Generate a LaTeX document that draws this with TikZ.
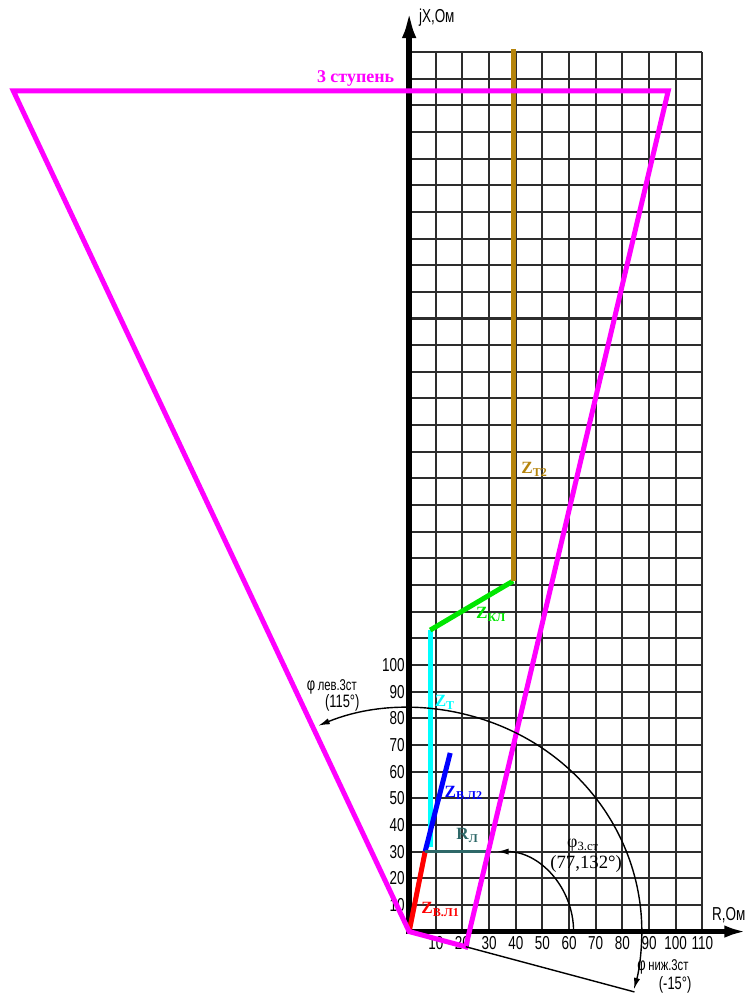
\documentclass[tikz,border=0pt]{standalone}
\usepackage{fontspec}
\setmainfont{Liberation Serif}
\newfontfamily\gost[FakeStretch=0.72]{Liberation Sans}
\usepackage{tikz}
\usetikzlibrary{arrows.meta}

\definecolor{zbrown}{RGB}{181,132,12}
\definecolor{zgreen}{RGB}{0,230,0}
\definecolor{zcyan}{RGB}{0,255,255}
\definecolor{zblue}{RGB}{0,0,255}
\definecolor{zred}{RGB}{255,0,0}
\definecolor{zmagenta}{RGB}{255,0,255}
\definecolor{zteal}{RGB}{46,104,104}
\definecolor{gridgray}{RGB}{45,45,45}

\tikzset{
  zline/.style={line width=3.2pt},
  zlabel/.style={anchor=west, inner sep=0pt, font=\bfseries\fontsize{11}{11}\selectfont},
  axlabel/.style={inner sep=1pt, font=\gost\fontsize{12}{12}\selectfont},
  angarc/.style={line width=0.9pt, -{Latex[length=2.6mm,width=1.4mm]}},
  anglabel/.style={inner sep=0pt, font=\gost\fontsize{11.5}{11.5}\selectfont},
}

\begin{document}
\begin{tikzpicture}[scale=0.6]
    % 边界
    \useasboundingbox (-15.35,-2.38) rectangle (12.68,34.95);

    % 网格
    \draw[gridgray, line width=1.3pt] (0,0) grid (11,33);

    % 坐标轴
    \draw[line width=3.6pt, -{Latex[length=6.5mm,width=3.2mm]}] (0,-0.1) -- (0,34.6);
    \draw[line width=3.6pt, -{Latex[length=5mm,width=2.8mm]}] (-0.1,0) -- (12.66,0);
    \node[axlabel, anchor=west] (ylab) at (0.3,34.3) {jX,Ом};
    \node[axlabel, anchor=west] (xlab) at (11.3,0.62) {R,Ом};

    % 刻度
    \foreach \i in {1,...,11}
        \node[axlabel, anchor=north] (x\i) at (\i,-0.12) {\the\numexpr\i*10\relax};
    \foreach \i in {1,...,10}
        \node[axlabel, anchor=east] (y\i) at (-0.1,\i) {\the\numexpr\i*10\relax};

    % 特性线
    \coordinate (O) at (0,0);
    \coordinate (P1) at (0.6,3);
    \coordinate (P2) at (1.54,6.7);
    \coordinate (T1) at (0.79,3.17);
    \coordinate (T2) at (0.79,11.31);
    \coordinate (K2) at (3.9,13.15);
    \coordinate (B2) at (3.9,33.1);
    \coordinate (RL) at (2.9,3);
    \draw[zline, zcyan] (T1) -- (T2);
    \draw[zline, zgreen] (T2) -- (K2);
    \draw[zline, zbrown] (K2) -- (B2);
    \draw[zline, zred] (O) -- (P1);
    \draw[zline, zblue] (P1) -- (P2);
    \draw[zteal, line width=2pt] (P1) -- (RL);

    % 特性区
    \coordinate (A) at (-15:2.2);
    \coordinate (C) at (9.72,31.54);
    \coordinate (D) at (-14.85,31.54);
    \draw[zmagenta, zline] (O) -- (A) -- (C) -- (D) -- cycle;
    \node[zmagenta, inner sep=0pt, anchor=south east, font=\bfseries\fontsize{11.5}{11.5}\selectfont]
        (st3) at (-0.55,31.7) {3 ступень};

    % 角度
    \draw[angarc] (6.17,0) arc[start angle=0, end angle=90, x radius=2.87, y radius=3];
    \draw[angarc] (8.73,0) arc[start angle=0, end angle=113, x radius=8.73, y radius=8.39];
    \draw[angarc] (8.73,0) arc[start angle=0, end angle=-15, x radius=8.73, y radius=8.39];
    \draw[line width=0.9pt] (A) -- (-15:8.75);

    % 标注
    \node[zlabel, zbrown] (zt2) at (4.2,17.35) {Z\textsubscript{Т2}};
    \node[zlabel, zgreen] (zkl) at (2.5,11.9) {Z\textsubscript{КЛ}};
    \node[zlabel, zcyan] (zt) at (0.95,8.6) {Z\textsubscript{Т}};
    \node[zlabel, zblue] (zvl2) at (1.32,5.2) {Z\textsubscript{В.Л2}};
    \node[zlabel, zteal] (rl) at (1.76,3.6) {R\textsubscript{Л}};
    \node[zlabel, zred] (zvl1) at (0.45,0.82) {Z\textsubscript{В.Л1}};

    \node[inner sep=0pt, anchor=west, font=\fontsize{11.5}{11.5}\selectfont]
        (phi3) at (5.92,3.25) {φ\textsubscript{3.ст}};
    \node[inner sep=0pt, font=\fontsize{12}{12}\selectfont] (phi3v) at (6.64,2.53) {(77,132°)};
    \node[anglabel, anchor=west] (phil) at (-3.85,9.17) {φ{\fontsize{10}{10}\selectfont\,лев.3ст}};
    \node[anglabel] (philv) at (-2.51,8.57) {(115°)};
    \node[anglabel, anchor=west] (phin) at (8.55,-1.33) {φ{\fontsize{10}{10}\selectfont\,ниж.3ст}};
    \node[anglabel] (phinv) at (9.98,-2.0) {(-15°)};
\end{tikzpicture}
\end{document}
